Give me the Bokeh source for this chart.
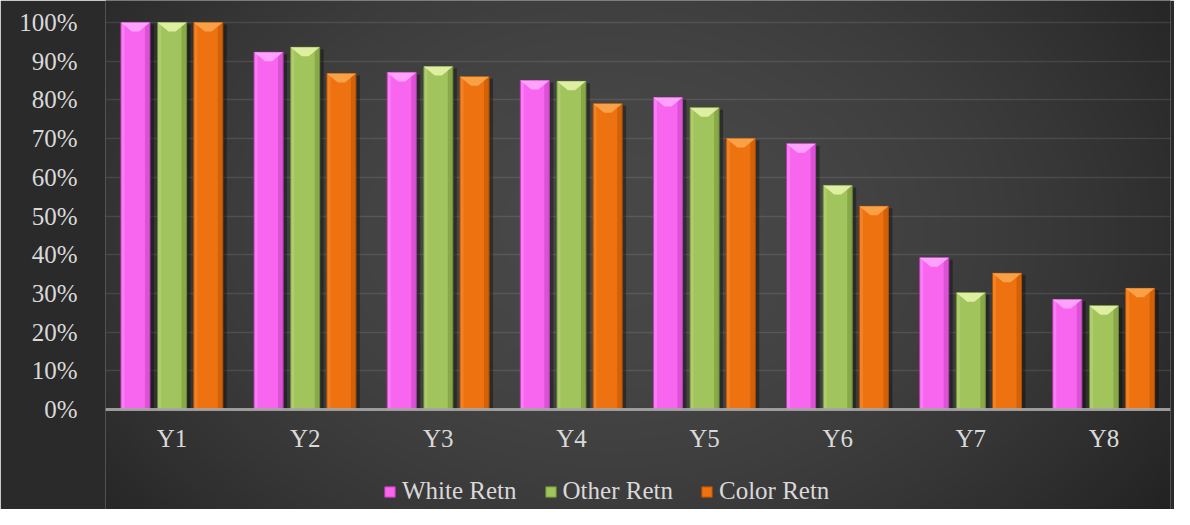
import numpy as np
from bokeh.plotting import figure
from bokeh.models import (Range1d, FixedTicker, NumeralTickFormatter, Span,
                          Legend, LegendItem, ColumnDataSource)
from bokeh.core.properties import value
from bokeh.embed import file_html
from bokeh.resources import INLINE

# ---------------- data ----------------
categories = ["Y1", "Y2", "Y3", "Y4", "Y5", "Y6", "Y7", "Y8"]
white_retn = [1.00, 0.923, 0.871, 0.850, 0.806, 0.687, 0.392, 0.284]
other_retn = [1.00, 0.936, 0.886, 0.848, 0.780, 0.579, 0.302, 0.268]
color_retn = [1.00, 0.868, 0.860, 0.790, 0.700, 0.525, 0.352, 0.313]
series_names = ["White Retn", "Other Retn", "Color Retn"]
y_ticks = [0.0, 0.1, 0.2, 0.3, 0.4, 0.5, 0.6, 0.7, 0.8, 0.9, 1.0]

# ---------------- layout constants ----------------
W, H = 1174, 509
BL, BR = 105, 4
FW, FH = W - BL - BR, H
PX_PER_UNIT = 387.0           # pixels per 100%
TOP_PAD = 22                  # px from frame top to 100% line
y_end = 1.0 + TOP_PAD / PX_PER_UNIT
y_start = y_end - FH / PX_PER_UNIT
FONT = "Liberation Serif"
TXT = "#d9d9d9"
FS = "25px"

p = figure(width=W, height=H, output_backend="svg", toolbar_location=None,
           x_axis_type=None, x_range=Range1d(0, len(categories)),
           y_range=Range1d(y_start, y_end),
           min_border_left=BL, min_border_right=BR, min_border_top=0,
           min_border_bottom=0)
p.border_fill_color = "#2a2a2a"
p.background_fill_color = "#2b2b2b"
p.outline_line_color = None

# ---------------- radial gradient background ----------------
xs = BL + np.arange(FW) + 0.5
ys = (FH - 1 - np.arange(FH)) + 0.5
X, Y = np.meshgrid(xs, ys)
d2 = ((X - 610) / 700.0) ** 2 + ((Y - 230) / 500.0) ** 2
c = np.clip(72 - 40 * np.minimum(d2, 1.3), 30, 80).astype(np.uint8)
img = np.empty((FH, FW), dtype=np.uint32)
view = img.view(dtype=np.uint8).reshape((FH, FW, 4))
view[..., 0] = c
view[..., 1] = c
view[..., 2] = c
view[..., 3] = 255
p.image_rgba(image=[img], x=0, y=y_start, dw=len(categories), dh=y_end - y_start,
             level="image")

# ---------------- grid / axis ----------------
p.xgrid.grid_line_color = None
p.ygrid.ticker = FixedTicker(ticks=y_ticks)
p.ygrid.grid_line_color = "#ffffff"
p.ygrid.grid_line_alpha = 0.10
p.ygrid.grid_line_width = 1.5

ax = p.yaxis[0]
ax.ticker = FixedTicker(ticks=y_ticks)
ax.formatter = NumeralTickFormatter(format="0%")
ax.axis_line_color = None
ax.major_tick_line_color = None
ax.minor_tick_line_color = None
ax.major_label_standoff = 22
ax.major_label_text_font = FONT
ax.major_label_text_font_size = FS
ax.major_label_text_color = TXT

# ---------------- bars ----------------
styles = [
    dict(base="#f865ee", cap="#ffa8ff", dark="#b83cb4", light="#ffb0ff"),
    dict(base="#a2c45c", cap="#e4f4aa", dark="#6a8a34", light="#c8e090"),
    dict(base="#ef7210", cap="#faa64c", dark="#b04e00", light="#f8a050"),
]
offsets = [-0.275, 0.0, 0.272]
bw = 0.218
px = 1.0 / (FW / len(categories))      # one pixel in x data units
py = 1.0 / PX_PER_UNIT                  # one pixel in y data units

legend_items = []
for vals, off, st, name in zip([white_retn, other_retn, color_retn], offsets, styles, series_names):
    xc = np.arange(len(categories)) + 0.5 + off
    v = np.array(vals)
    # shadow
    p.vbar(x=xc + 4 * px, top=v - 2 * py, bottom=0, width=bw, fill_color="#000000",
           fill_alpha=0.35, line_color=None)
    # main bar
    r = p.vbar(x=xc, top=v, bottom=0, width=bw, fill_color=st["base"],
               line_color=st["dark"], line_width=1)
    # right darker edge
    p.vbar(x=xc + bw / 2 - 2.5 * px, top=v, bottom=0, width=5 * px,
           fill_color=st["dark"], fill_alpha=0.45, line_color=None)
    # left lighter edge
    p.vbar(x=xc - bw / 2 + 2 * px, top=v, bottom=0, width=3 * px,
           fill_color=st["light"], fill_alpha=0.35, line_color=None)
    # top bevel cap
    cap_x = [[x - bw / 2, x + bw / 2, x + bw / 2 - 0.38 * bw, x - bw / 2 + 0.38 * bw] for x in xc]
    cap_y = [[t, t, t - 9 * py, t - 9 * py] for t in v]
    p.patches(xs=cap_x, ys=cap_y, fill_color=st["cap"], fill_alpha=0.9, line_color=None)
    legend_items.append(LegendItem(label=name, renderers=[r]))

# zero axis line
p.add_layout(Span(location=0, dimension="width", line_color="#a6a6a6",
                  line_width=3, line_alpha=0.9))

# category labels
src = ColumnDataSource(dict(x=np.arange(len(categories)) + 0.5,
                            y=[-29 * py] * len(categories), t=categories))
p.text(x="x", y="y", text="t", source=src, text_align="center",
       text_baseline="middle", text_font=value(FONT), text_font_size=FS,
       text_color=TXT)

legend = Legend(items=legend_items, orientation="horizontal", location=(278, 4),
                glyph_width=13, glyph_height=13, label_standoff=6, spacing=27,
                padding=0, margin=0, label_height=26,
                label_text_font=FONT, label_text_font_size=FS,
                label_text_color=TXT, background_fill_alpha=0,
                border_line_color=None)
p.add_layout(legend, "center")

open("out.html", "w").write(file_html(p, INLINE))
